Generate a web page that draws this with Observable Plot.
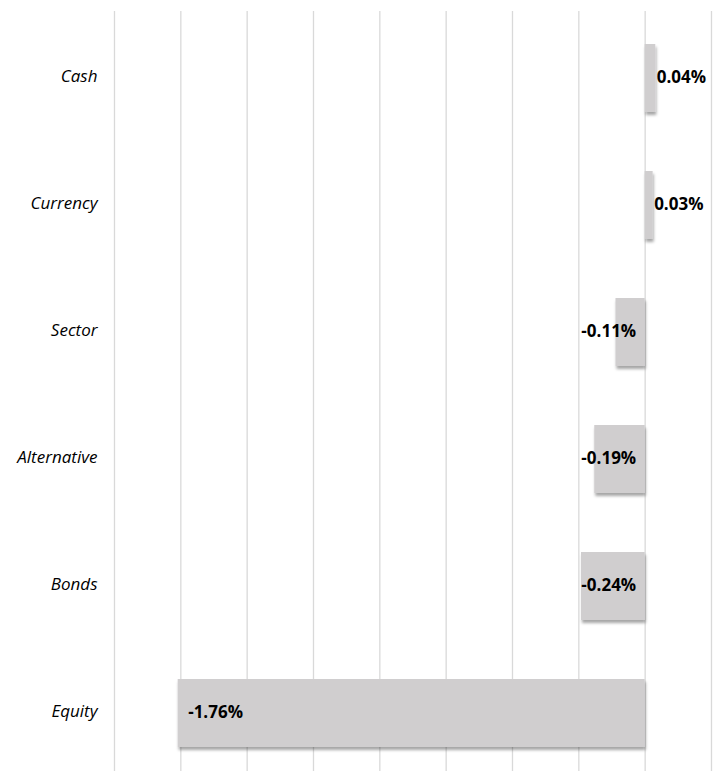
<!DOCTYPE html>
<html>
<head>
<meta charset="utf-8">
<script src="https://cdn.jsdelivr.net/npm/d3@7"></script>
<script src="https://cdn.jsdelivr.net/npm/@observablehq/plot@0.6"></script>
<style>
  html, body { margin: 0; padding: 0; background: #fff; }
  #chart { width: 723px; height: 771px; }
</style>
</head>
<body>
<div id="chart"></div>
<script>
const categories = ["Cash", "Currency", "Sector", "Alternative", "Bonds", "Equity"];
const values = [0.04, 0.03, -0.11, -0.19, -0.24, -1.76];
const labels = ["0.04%", "0.03%", "-0.11%", "-0.19%", "-0.24%", "-1.76%"];
const gridTicks = [-2, -1.75, -1.5, -1.25, -1, -0.75, -0.5, -0.25, 0, 0.25];

const data = categories.map((c, i) => ({category: c, value: values[i], label: labels[i]}));

const font = "'Open Sans', 'DejaVu Sans', sans-serif";

const chart = Plot.plot({
  width: 723,
  height: 771,
  marginTop: 11,
  marginBottom: 0,
  marginLeft: 114,
  marginRight: 12,
  style: {fontFamily: font, background: "#fff", color: "#000"},
  x: {domain: [-2, 0.25], axis: null},
  y: {domain: categories, range: [42, 748], paddingInner: 0.467, paddingOuter: 0, label: null},
  marks: [
    Plot.ruleX(gridTicks, {stroke: "#d9d9d9", strokeWidth: 1.3}),
    Plot.barX(data, {x1: 0, x2: "value", y: "category", fill: "#d0cecf"}),
    Plot.axisY({tickSize: 0, tickPadding: 17, fontSize: 17, fontStyle: "italic", fill: "#000", label: null, dy: -2}),
    // positive values: label just to the right of the bar
    Plot.text(data.filter(d => d.value >= 0), {
      x: "value", y: "category", text: "label", textAnchor: "start", dx: 1, dy: -1,
      fontSize: 17, fontWeight: "bold", fill: "#000"
    }),
    // small negative values: label ending near the baseline
    Plot.text(data.filter(d => d.value < 0 && d.value > -1), {
      x: 0, y: "category", text: "label", textAnchor: "end", dx: -9, dy: -1,
      fontSize: 17, fontWeight: "bold", fill: "#000"
    }),
    // large negative values: label inside the bar near its end
    Plot.text(data.filter(d => d.value <= -1), {
      x: "value", y: "category", text: "label", textAnchor: "start", dx: 10, dy: -1,
      fontSize: 17, fontWeight: "bold", fill: "#000"
    })
  ]
});

// drop shadow for bars
const ns = "http://www.w3.org/2000/svg";
const defs = document.createElementNS(ns, "defs");
defs.innerHTML = '<filter id="barShadow" x="-10%" y="-20%" width="130%" height="150%">' +
  '<feDropShadow dx="1" dy="3" stdDeviation="1.6" flood-color="#000" flood-opacity="0.35"/></filter>';
chart.insertBefore(defs, chart.firstChild);
const barG = chart.querySelector('g[aria-label="bar"]');
if (barG) barG.setAttribute("filter", "url(#barShadow)");

document.getElementById("chart").appendChild(chart);
</script>
</body>
</html>
